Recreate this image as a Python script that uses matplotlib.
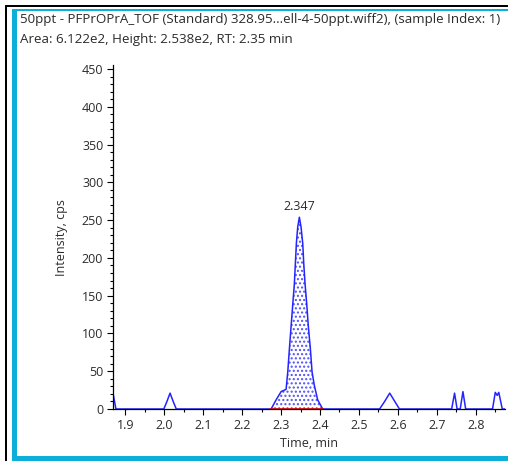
import matplotlib
matplotlib.use("Agg")
import matplotlib.pyplot as plt
from matplotlib.patches import Rectangle
from matplotlib.ticker import MultipleLocator
import numpy as np

# ---- data ----
time_min = [1.8685, 1.876, 1.999, 2.007, 2.015, 2.023, 2.031,
            2.2745, 2.2872, 2.3001, 2.3129, 2.3172, 2.3215, 2.3257, 2.3300, 2.3342,
            2.3368, 2.3393, 2.3428, 2.3470, 2.3513, 2.3557, 2.3582, 2.3616, 2.3659,
            2.3701, 2.3752, 2.3796, 2.3855, 2.3941, 2.4069,
            2.553, 2.566, 2.579, 2.592, 2.604,
            2.738, 2.7455, 2.752, 2.760, 2.767, 2.774,
            2.843, 2.850, 2.855, 2.859, 2.868, 2.875]
intensity = [21, 0, 0, 10, 21, 10, 0,
             0, 12, 23, 26, 49, 80, 109, 138, 166,
             193, 219, 241, 253.8, 241, 219, 193, 166, 139,
             109, 80, 49, 31, 12, 0,
             0, 10, 21, 10, 0,
             0, 21, 0, 0, 23, 0,
             0, 22, 18, 22, 0, 0]
peak_start, peak_end = 2.2745, 2.4069
peak_rt = 2.347
peak_height = 253.8

title_line1 = "50ppt - PFPrOPrA_TOF (Standard) 328.95...ell-4-50ppt.wiff2), (sample Index: 1)"
title_line2 = "Area: 6.122e2, Height: 2.538e2, RT: 2.35 min"
x_ticks = [1.9, 2.0, 2.1, 2.2, 2.3, 2.4, 2.5, 2.6, 2.7, 2.8]
y_ticks = [0, 50, 100, 150, 200, 250, 300, 350, 400, 450]

# ---- figure ----
W, H = 508, 461
fig = plt.figure(figsize=(W / 100, H / 100), dpi=100)
plt.rcParams['font.family'] = ['Open Sans', 'DejaVu Sans']

def px(x, y):
    return x / W, 1 - y / H

cyan = '#0eaedb'
# frame decorations
fig.add_artist(Rectangle(px(5, 461), 2 / W, 456 / H, color='black', transform=fig.transFigure, lw=0))
fig.add_artist(Rectangle(px(5, 7), (W - 5) / W, 2 / H, color='black', transform=fig.transFigure, lw=0))
fig.add_artist(Rectangle(px(12, 461), 5 / W, 451 / H, color=cyan, transform=fig.transFigure, lw=0))
fig.add_artist(Rectangle(px(12, 11), (W - 12) / W, 2 / H, color=cyan, transform=fig.transFigure, lw=0))
fig.add_artist(Rectangle(px(12, 461), (W - 12) / W, 5 / H, color=cyan, transform=fig.transFigure, lw=0))

txt_color = '#2b2b2b'
fig.text(20 / W, 1 - 19 / H, title_line1, fontsize=9.6, color=txt_color, va='center', ha='left')
fig.text(20 / W, 1 - 39 / H, title_line2, fontsize=9.6, color=txt_color, va='center', ha='left')

left, right = 113 / W, 505 / W
bottom = (H - 409) / H
top = (H - 65.2) / H
ax = fig.add_axes([left, bottom, right - left, top - bottom])

t = np.array(time_min)
y = np.array(intensity)
mask = (t >= peak_start) & (t <= peak_end)
ax.fill_between(t[mask], 0, y[mask], facecolor='none', edgecolor='#5050ff',
                hatch='....', linewidth=0)
ax.plot(t, y, color='#2424ff', lw=1.1)
ax.plot([peak_start, peak_end], [0, 0], color='red', lw=1.2)

ax.text(peak_rt, peak_height + 5, f"{peak_rt:.3f}", ha='center', va='bottom',
        fontsize=9, color=txt_color)

ax.set_xlim(1.8685, 2.875)
ax.set_ylim(0, 455)
ax.set_xticks(x_ticks)
ax.set_xticklabels([f"{v:.1f}" for v in x_ticks])
ax.set_yticks(y_ticks)
ax.xaxis.set_minor_locator(MultipleLocator(0.05))
ax.yaxis.set_minor_locator(MultipleLocator(10))
ax.tick_params(axis='both', labelsize=9, colors='black', labelcolor=txt_color,
               length=4, width=0.8, direction='out', pad=3)
ax.tick_params(which='minor', length=2, width=0.8)
for s in ['top', 'right']:
    ax.spines[s].set_visible(False)
for s in ['left', 'bottom']:
    ax.spines[s].set_linewidth(0.9)
ax.set_xlabel("Time, min", fontsize=9, color=txt_color, labelpad=4)
ax.set_ylabel("Intensity, cps", fontsize=9, color=txt_color, labelpad=10)

fig.savefig("out.png", dpi=100)
